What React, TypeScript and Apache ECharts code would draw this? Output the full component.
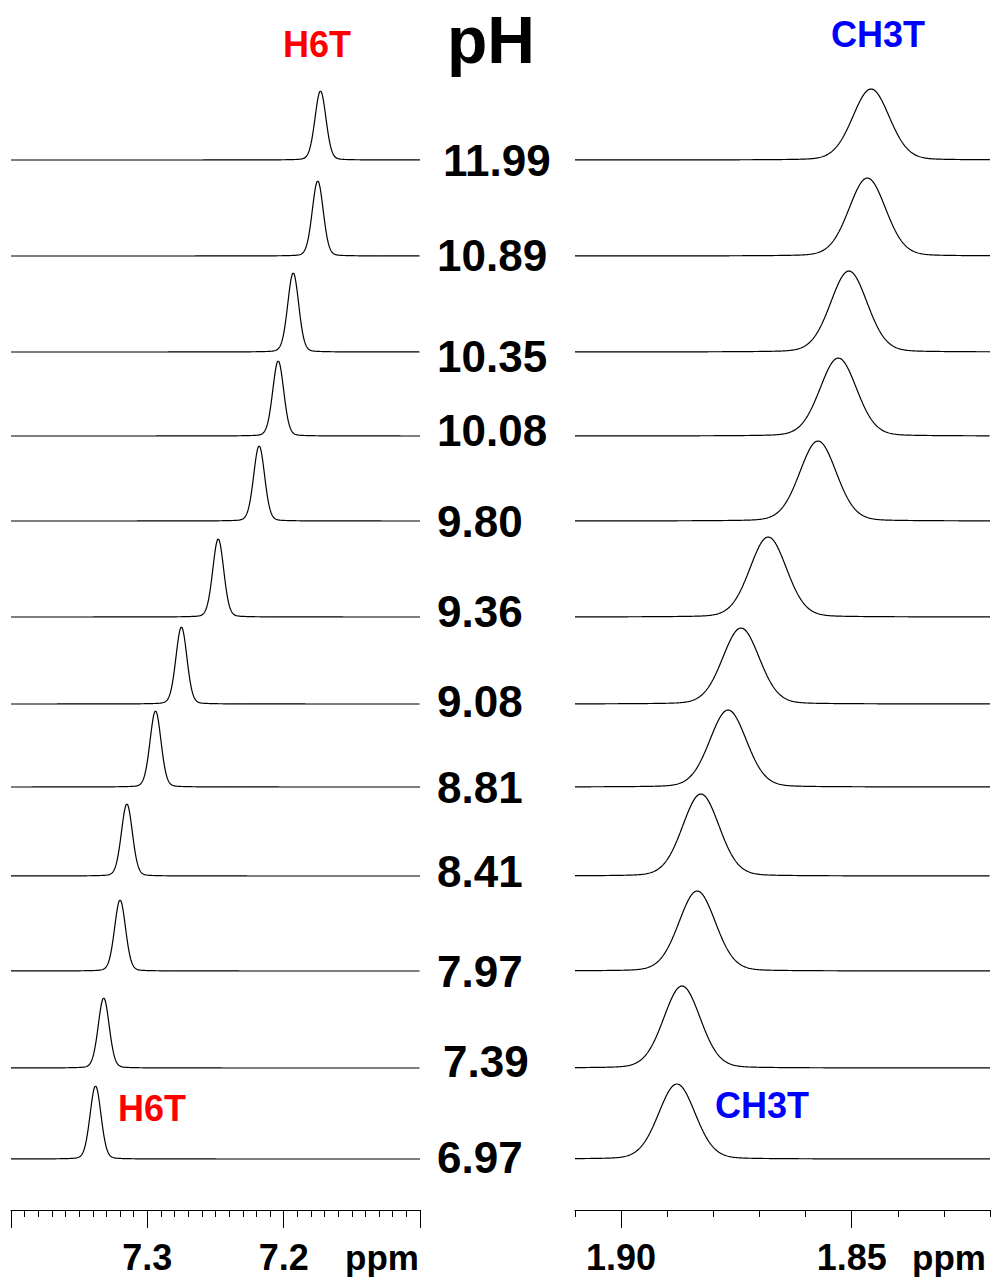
import React, { useEffect, useRef } from "react";
import * as echarts from "echarts";

// pH of each trace, top to bottom
const phLabels = ["11.99", "10.89", "10.35", "10.08", "9.80", "9.36", "9.08", "8.81", "8.41", "7.97", "7.39", "6.97"];
// vertical stacking offset of each trace (y-axis units)
const traceOffset = [1050, 954, 858, 774, 689, 593, 506, 423, 334, 239, 142, 51];
// H6T peak: chemical shift (ppm) and intensity
const h6tShift = [7.173, 7.175, 7.193, 7.204, 7.218, 7.248, 7.275, 7.294, 7.315, 7.32, 7.332, 7.338];
const h6tHeight = [69, 75, 79, 75, 75, 78, 77, 76, 72, 71, 70, 73];
// CH3T peak: chemical shift (ppm) and intensity
const ch3tShift = [1.8458, 1.8466, 1.8506, 1.8529, 1.8573, 1.8681, 1.874, 1.8768, 1.8827, 1.8835, 1.8868, 1.8879];
const ch3tHeight = [71, 78, 81, 78, 80, 80, 76, 77, 82, 80, 82, 75];
// line widths (ppm) and lorentzian fraction
const h6tWidth = 0.0095;
const ch3tWidth = 0.0094;
const lorentzFraction = 0.12;

// axis ranges and ticks
const leftRange = [7.1, 7.4];
const rightRange = [1.82, 1.91];
const leftMajorTicks = [7.4, 7.3, 7.2, 7.1];
const leftLabels = [7.3, 7.2];
const rightMajorTicks = [1.9, 1.85];
const rightLabels = [1.9, 1.85];

const FONT = "'Liberation Sans', Arial, Helvetica, sans-serif";
// small nudges of the pH labels (px), layout only
const labelNudgeX: Record<string, number> = { "11.99": 6, "7.39": 6 };
const labelNudgeY: Record<string, number> = {
  "10.89": -1,
  "10.35": 4,
  "10.08": -6,
  "9.36": -6,
  "9.08": -3,
  "8.41": -5,
  "7.39": -7,
  "6.97": -2,
};

function range(a: number, b: number, step: number) {
  const out: number[] = [];
  const n = Math.round((b - a) / step);
  for (let i = 0; i <= n; i++) out.push(Math.round((a + i * step) * 1000) / 1000);
  return out;
}

function shape(x: number, x0: number, w: number, h: number) {
  const d = (x - x0) / w;
  const g = Math.exp(-4 * Math.LN2 * d * d);
  const l = 1 / (1 + 4 * d * d);
  return h * ((1 - lorentzFraction) * g + lorentzFraction * l);
}

function trace(lo: number, hi: number, x0: number, w: number, h: number, off: number) {
  const n = 900;
  const pts: number[][] = [];
  for (let i = 0; i <= n; i++) {
    const x = hi - ((hi - lo) * i) / n;
    pts.push([x, off + shape(x, x0, w, h)]);
  }
  return pts;
}

export default function App() {
  const ref = useRef<HTMLDivElement>(null);
  useEffect(() => {
    if (!ref.current) return;
    const chart = echarts.init(ref.current, undefined, { renderer: "svg" });

    const majorAxis = (gridIndex: number, r: number[], ticks: number[], labels: number[], digits: number) => ({
      type: "value",
      gridIndex,
      min: r[0],
      max: r[1],
      inverse: true,
      position: "bottom",
      axisLine: { show: true, lineStyle: { color: "#000", width: 1 } },
      axisTick: { show: true, length: 18, customValues: ticks, lineStyle: { color: "#000", width: 1 } },
      axisLabel: {
        show: true,
        customValues: labels,
        formatter: (v: number) => v.toFixed(digits),
        margin: 29,
        fontSize: 36,
        fontWeight: "bold",
        fontFamily: FONT,
        color: "#000",
      },
      splitLine: { show: false },
    });
    const minorAxis = (gridIndex: number, r: number[]) => ({
      type: "value",
      gridIndex,
      min: r[0],
      max: r[1],
      inverse: true,
      position: "bottom",
      axisLine: { show: false },
      axisTick: { show: true, length: 7, customValues: range(r[0], r[1], 0.01), lineStyle: { color: "#000", width: 1 } },
      axisLabel: { show: false },
      splitLine: { show: false },
    });

    const series: any[] = [];
    phLabels.forEach((_, i) => {
      series.push({
        type: "line",
        xAxisIndex: 0,
        yAxisIndex: 0,
        data: trace(leftRange[0], leftRange[1], h6tShift[i], h6tWidth, h6tHeight[i], traceOffset[i]),
        showSymbol: false,
        symbol: "none",
        lineStyle: { color: "#000", width: 1.2 },
        silent: true,
      });
      series.push({
        type: "line",
        xAxisIndex: 2,
        yAxisIndex: 1,
        data: trace(rightRange[0], rightRange[1], ch3tShift[i], ch3tWidth, ch3tHeight[i], traceOffset[i]),
        showSymbol: false,
        symbol: "none",
        lineStyle: { color: "#000", width: 1.2 },
        silent: true,
      });
    });
    series.push({
      type: "scatter",
      xAxisIndex: 0,
      yAxisIndex: 0,
      symbolSize: 0,
      clip: false,
      silent: true,
      itemStyle: { opacity: 1, color: "#000" },
      data: phLabels.map((p, i) => ({
        value: [leftRange[0], traceOffset[i]],
        name: p,
        label: { distance: 17 + (labelNudgeX[p] || 0), offset: [0, labelNudgeY[p] || 0] },
      })),
      label: {
        show: true,
        position: "right",
        distance: 17,
        formatter: (p: any) => p.name,
        fontSize: 44,
        fontWeight: "bold",
        fontFamily: FONT,
        color: "#000",
        opacity: 1,
      },
    });

    const txt = (text: string, x: number, y: number, size: number, color: string, align = "center") => ({
      type: "text",
      x,
      y,
      style: {
        text,
        fill: color,
        font: `bold ${size}px ${FONT}`,
        textAlign: align,
        textVerticalAlign: "middle",
      },
    });

    chart.setOption({
      animation: false,
      backgroundColor: "#fff",
      grid: [
        { left: 11, right: 571, top: 0, bottom: 71 },
        { left: 575, right: 1, top: 0, bottom: 71 },
      ],
      xAxis: [
        majorAxis(0, leftRange, leftMajorTicks, leftLabels, 1),
        minorAxis(0, leftRange),
        majorAxis(1, rightRange, rightMajorTicks, rightLabels, 2),
        minorAxis(1, rightRange),
      ],
      yAxis: [
        { type: "value", gridIndex: 0, min: 0, max: 1210, show: false },
        { type: "value", gridIndex: 1, min: 0, max: 1210, show: false },
      ],
      series,
      graphic: [
        txt("pH", 491, 40, 66, "#000"),
        txt("H6T", 317, 44, 36, "#ff0000"),
        txt("CH3T", 878, 34, 36, "#0000ff"),
        txt("H6T", 152, 1108, 36, "#ff0000"),
        txt("CH3T", 762, 1105, 36, "#0000ff"),
        txt("ppm", 345, 1257, 35, "#000", "left"),
        txt("ppm", 912, 1257, 35, "#000", "left"),
      ],
    });
    return () => chart.dispose();
  }, []);
  return (
    <div
      ref={ref}
      style={{ position: "absolute", left: 0, top: 0, width: 991, height: 1281, background: "#fff" }}
    />
  );
}
